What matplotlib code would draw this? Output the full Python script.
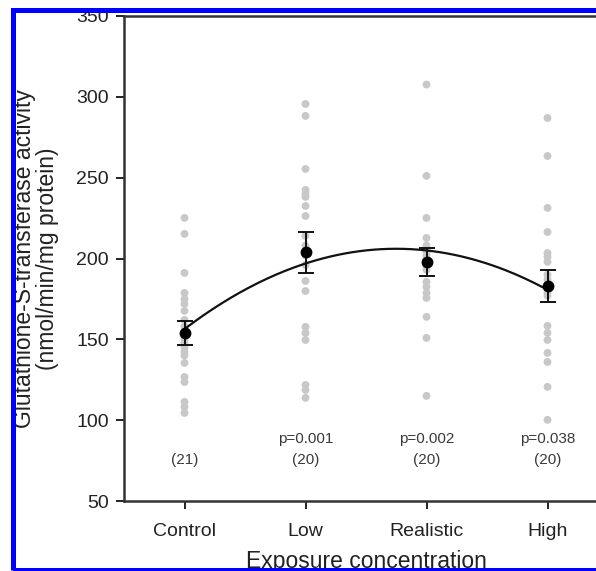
import matplotlib
matplotlib.use("Agg")
import matplotlib.pyplot as plt
from matplotlib.patches import Rectangle
import numpy as np

plt.rcParams['font.family'] = ['Liberation Sans', 'DejaVu Sans']

# --- data ---
groups = ["Control", "Low", "Realistic", "High"]

control_vals = [225.1, 215.2, 191.1, 178.7, 175.0, 171.9, 167.6, 162, 158, 154, 151,
                148, 145, 140, 142.2, 135.4, 126.7, 123.6, 111.3, 108.2, 104.5]
low_vals = [295.6, 288.2, 255.4, 242.4, 240.0, 232.5, 226.3, 214, 208, 202, 196,
            186.1, 179.9, 157.7, 154.0, 149.6, 121.8, 118.7, 113.8, 238.1]
realistic_vals = [307.6, 251.1, 225.1, 212.7, 208, 206, 204, 202, 200, 199, 197,
                  195, 193, 185.5, 182.4, 178.7, 175.6, 163.9, 150.9, 115.0]
high_vals = [286.9, 263.4, 231.3, 216.4, 203.4, 201.0, 197.9, 190, 187, 184, 181,
             179, 177, 158.3, 154.0, 149.6, 141.6, 136.0, 120.6, 100.2]

means = [154.0, 204.0, 197.9, 183.0]
sems = [7.5, 12.7, 8.8, 9.9]
n_labels = ["(21)", "(20)", "(20)", "(20)"]
p_labels = ["", "p=0.001", "p=0.002", "p=0.038"]

all_vals = [control_vals, low_vals, realistic_vals, high_vals]

# --- figure ---
fig = plt.figure(figsize=(5.96, 5.71), dpi=100)
ax = fig.add_axes([124/596, 70/571, 484/596, 485/571])

for i, vals in enumerate(all_vals):
    ax.scatter(np.full(len(vals), i), vals, s=32, color='#c8c8c8', edgecolors='none', zorder=2)

# quadratic fit through the group means
xs = np.arange(len(groups))
coef = np.polyfit(xs, means, 2)
xf = np.linspace(0, 3, 200)
ax.plot(xf, np.polyval(coef, xf), color='#111111', lw=1.6, zorder=3)

ax.errorbar(xs, means, yerr=sems, fmt='o', color='black', ms=7.5,
            ecolor='#111111', elinewidth=1.4, capsize=6, capthick=1.4, zorder=4)

for i in range(len(groups)):
    ax.text(i, 75.4, n_labels[i], ha='center', va='center', fontsize=11, color='#3a3a3a')
    if p_labels[i]:
        ax.text(i, 88.6, p_labels[i], ha='center', va='center', fontsize=11, color='#3a3a3a')

ax.set_xlim(-0.5, 3.5)
ax.set_ylim(50, 350)
ax.set_yticks(range(50, 351, 50))
ax.set_xticks(xs)
ax.set_xticklabels(groups)
ax.tick_params(direction='out', length=6, width=1.4, labelsize=14, colors='#222222', pad=5)
ax.tick_params(axis='x', pad=10)

for side in ['left', 'top', 'bottom']:
    ax.spines[side].set_linewidth(1.8)
    ax.spines[side].set_color('#333333')
ax.spines['right'].set_visible(False)

ax.set_ylabel("Glutathione-S-transferase activity\n(nmol/min/mg protein)",
              fontsize=16.5, color='#222222', labelpad=12, linespacing=1.05)
ax.set_xlabel("Exposure concentration", fontsize=16.5, color='#222222', labelpad=7)

# blue frame around the figure (cropped on the right)
frame = Rectangle((12.5/596, 1/571), 1.2, 560.5/571, transform=fig.transFigure,
                  fill=False, edgecolor='#0000ff', linewidth=3.6, zorder=10, clip_on=False)
fig.add_artist(frame)

fig.savefig("out.png", dpi=100)
